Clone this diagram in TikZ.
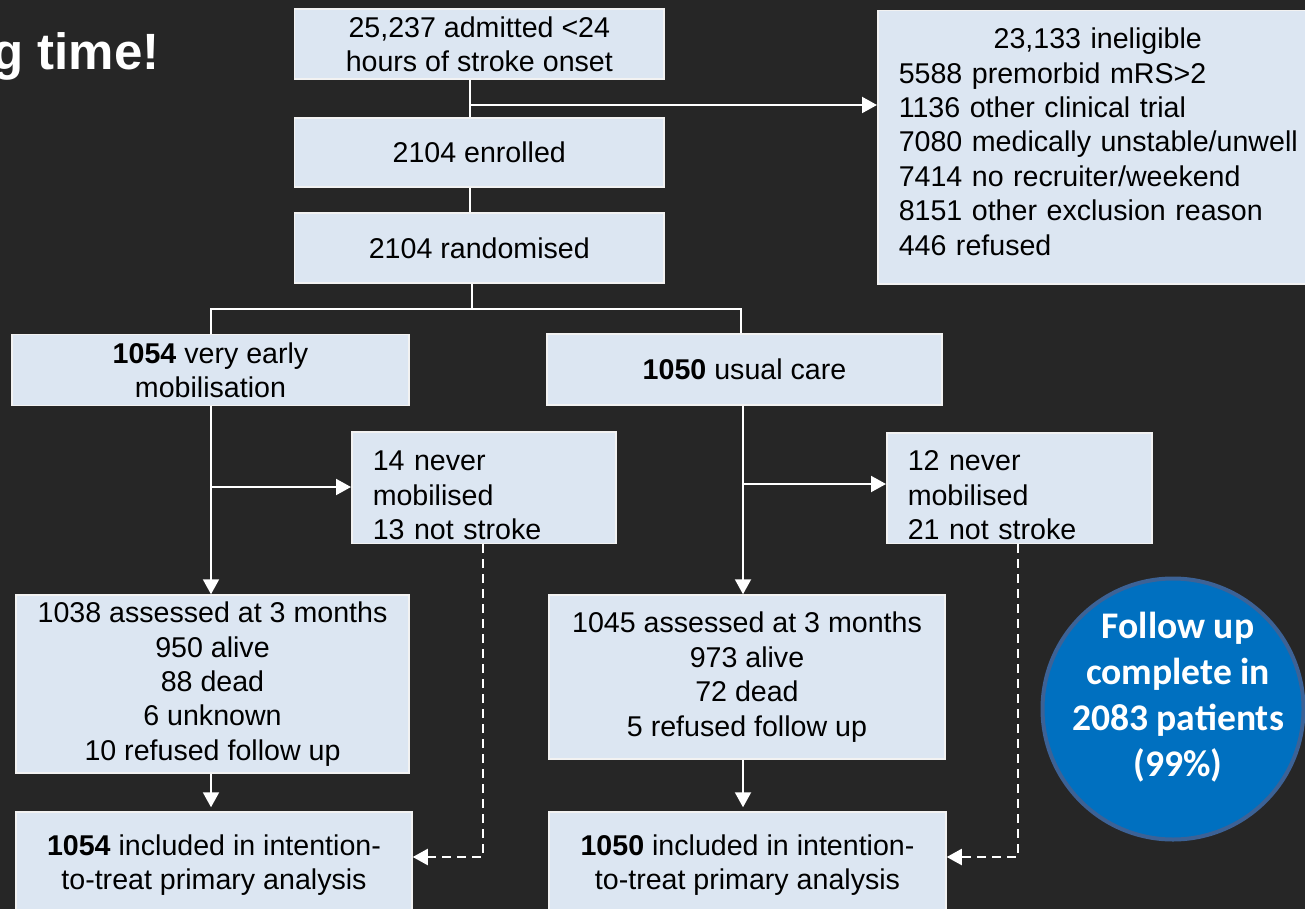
\documentclass[tikz,border=0pt]{standalone}
\usepackage{fontspec}
\setmainfont{Liberation Sans}
\newfontfamily\calibri{Carlito}
\usetikzlibrary{arrows.meta}
\definecolor{slidebg}{HTML}{262626}
\definecolor{boxfill}{HTML}{DCE6F2}
\definecolor{boxline}{HTML}{F2F2F2}
\definecolor{badgefill}{HTML}{0070C0}
\definecolor{badgeline}{HTML}{3C6296}
\newcommand{\padtop}[1]{\rule{0pt}{#1}}
\newcommand{\padbot}[1]{\rule[-#1]{0pt}{#1}}

\begin{document}
\begin{tikzpicture}[x=1pt,y=-1pt,
  flowbox/.style={draw=boxline,line width=1.5pt,fill=boxfill,text=black,inner sep=0pt,align=center,
    font=\fontsize{28.6}{34.4}\selectfont},
  listbox/.style={flowbox,anchor=north west,inner xsep=21pt,inner ysep=0pt,align=left},
  link/.style={draw=white,line width=2pt},
  arrow/.style={link,-{Triangle[length=15pt,width=16pt]}},
  dasharrow/.style={arrow,dash pattern=on 9pt off 6pt}]
\useasboundingbox (0,0) rectangle (1305,909);
\fill[slidebg] (0,0) rectangle (1305,909);
\clip (0,0) rectangle (1305,909);

% title (cut at the slide edge)
\node[anchor=base east,text=white,font=\fontsize{51}{60}\selectfont\bfseries] (title) at (163,70) {g time!};

% screening
\node[flowbox,minimum width=369.5pt,minimum height=70pt] (admit) at (479.3,44) {25,237 admitted <24\\hours of stroke onset};
\node[flowbox,minimum width=369.5pt,minimum height=69pt] (enrol) at (479.3,152.5) {2104 enrolled};
\node[flowbox,minimum width=369.5pt,minimum height=70pt] (random) at (479.3,248) {2104 randomised};
\node[listbox,text width=440pt] (inelig) at (877,10) {\padtop{38pt}\makebox[398pt]{23,133 ineligible}\\5588 premorbid mRS>2\\1136 other clinical trial\\7080 medically unstable/unwell\\7414 no recruiter/weekend\\8151 other exclusion reason\\446 refused\padbot{28.6pt}};

% arms
\node[flowbox,minimum width=397pt,minimum height=71pt] (early) at (210.5,370) {\textbf{1054} very early\\mobilisation};
\node[flowbox,minimum width=395pt,minimum height=71pt] (usual) at (744.5,369.5) {\textbf{1050} usual care};
\node[listbox,text width=222pt] (excla) at (351,431) {\padtop{39pt}14 never\\mobilised\\13 not stroke\padbot{4pt}};
\node[listbox,text width=223pt] (exclb) at (886,432) {\padtop{38pt}12 never\\mobilised\\21 not stroke\padbot{4pt}};

% follow up
\node[flowbox,minimum width=393pt,minimum height=178pt] (assessa) at (212.5,684) {1038 assessed at 3 months\\950 alive\\88 dead\\6 unknown\\10 refused follow up};
\node[flowbox,minimum width=396pt,minimum height=164pt] (assessb) at (747,677) {1045 assessed at 3 months\\973 alive\\72 dead\\5 refused follow up};
\node[flowbox,minimum width=396pt,minimum height=106pt] (itta) at (214,865) {\textbf{1054} included in intention-\\to-treat primary analysis};
\node[flowbox,minimum width=397pt,minimum height=106pt] (ittb) at (747.5,865) {\textbf{1050} included in intention-\\to-treat primary analysis};

% badge
\node[circle,fill=badgefill,draw=badgeline,line width=4pt,minimum size=261pt,inner sep=0pt] (badge) at (1173,709) {};
\node[text=white,align=center,font=\calibri\bfseries\fontsize{37.6}{46}\selectfont] (badgetext) at (1178,697) {Follow up\\complete in\\2083 patients\\(99\%)};

% connectors
\coordinate (trunk) at (470,105);
\draw[link] (trunk |- admit.south) -- (trunk |- enrol.north);
\draw[arrow] (trunk) -- (trunk -| inelig.west);
\draw[link] (trunk |- enrol.south) -- (trunk |- random.north);
\coordinate (split) at (472,309);
\coordinate (armA) at (211,309);
\coordinate (armB) at (741,309);
\draw[link] (split |- random.south) -- (split);
\draw[link] (armA |- early.north) -- (armA) -- (armB) -- (armB |- usual.north);

\coordinate (sideA) at (211,487);
\draw[arrow] (sideA |- early.south) -- (sideA |- assessa.north);
\draw[arrow] (sideA) -- (sideA -| excla.west);
\draw[arrow,shorten >=4pt] (sideA |- assessa.south) -- (sideA |- itta.north);

\coordinate (sideB) at (743,484);
\draw[arrow] (sideB |- usual.south) -- (sideB |- assessb.north);
\draw[arrow] (sideB) -- (sideB -| exclb.west);
\draw[arrow,shorten >=4pt] (sideB |- assessb.south) -- (sideB |- ittb.north);

% not mobilised, still analysed
\coordinate (backA) at (483,857);
\draw[dasharrow] (backA |- excla.south) -- (backA) -- (backA -| itta.east);
\coordinate (backB) at (1018,857);
\draw[dasharrow] (backB |- exclb.south) -- (backB) -- (backB -| ittb.east);
\end{tikzpicture}
\end{document}
